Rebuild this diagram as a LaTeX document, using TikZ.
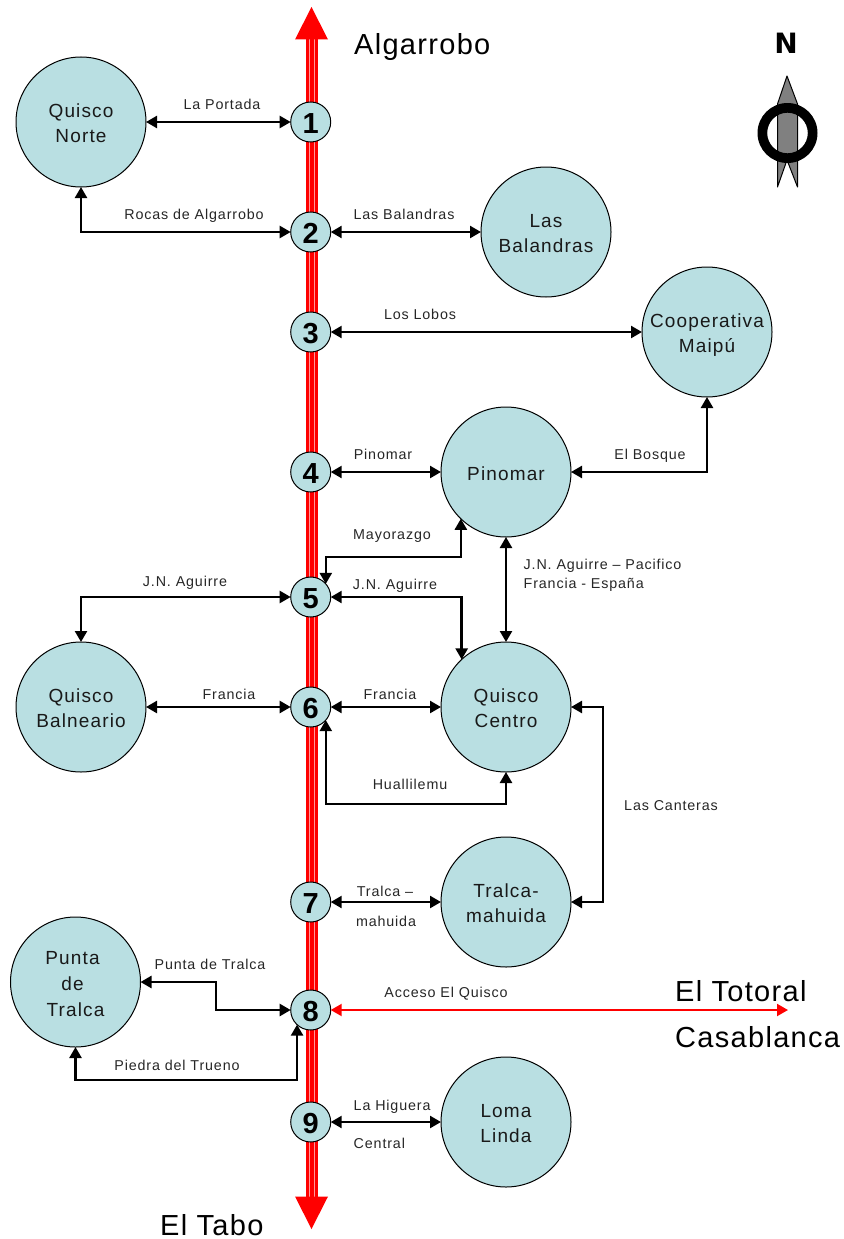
\documentclass[tikz,border=0pt]{standalone}
\usepackage{fontspec}
\setmainfont[LetterSpace=6]{Liberation Sans}
\newfontfamily\numfont{Liberation Sans Bold}
\newfontfamily\northfont{DejaVu Sans Bold}
\newfontfamily\bigfont[LetterSpace=4.5]{Liberation Sans}
\usetikzlibrary{arrows.meta,calc}
\definecolor{place}{HTML}{B9DFE2}
\newcommand{\placetext}[1]{\raisebox{0pt}[\dimexpr\height+6pt\relax][\depth]{\begin{tabular}{@{}c@{}}#1\end{tabular}}}
\tikzset{
  x=1pt,y=-1pt,
  bigc/.style={circle,draw=black,line width=1pt,fill=place,minimum size=130pt,inner sep=0pt,outer sep=0pt,font=\fontsize{19}{25}\selectfont,text=black!90},
  numc/.style={circle,draw=black,line width=1pt,fill=place,minimum size=40pt,inner sep=0pt,outer sep=0pt,font=\numfont\fontsize{29}{29}\selectfont},
  conn/.style={line width=2.4pt,{Triangle[length=11pt,width=12pt]}-{Triangle[length=11pt,width=12pt]}},
  redconn/.style={line width=2pt,red,{Triangle[length=11pt,width=12pt]}-{Triangle[length=11pt,width=12pt]}},
  lbl/.style={anchor=base,inner sep=0pt,font=\fontsize{14.3}{16}\selectfont,text=black!85},
  lbll/.style={anchor=base west,inner sep=0pt,font=\fontsize{14.3}{16}\selectfont,text=black!85},
  big/.style={anchor=base west,inner sep=0pt,font=\bigfont\fontsize{29}{30}\selectfont},
}
\begin{document}
\begin{tikzpicture}
\useasboundingbox (0,0) rectangle (843,1239);
% road
\fill[red] (306,39) rectangle (318,1197);
\draw[white!60!red,line width=0.9pt] (309.5,39) -- (309.5,1197);
\draw[white!60!red,line width=0.9pt] (314.3,39) -- (314.3,1197);
\fill[red] (311.5,7) -- (328,39.5) -- (295,39.5) -- cycle;
\fill[red] (311.5,1229) -- (328,1196.5) -- (295,1196.5) -- cycle;
% compass
\fill[black!50,draw=black,line width=1pt,line join=round] (787,76) -- (777.5,104) -- (777.5,187) -- (787,160) -- (797.5,187) -- (797.5,104) -- cycle;
\fill[black,even odd rule] (787.5,133) circle[radius=30] circle[radius=20.3];
\node[inner sep=0pt,font=\northfont\fontsize{28}{28}\selectfont] (north) at (786,43) {N};
% places
\node[bigc] (qn) at (81,122) {\placetext{Quisco\\Norte}};
\node[bigc] (lb) at (546,232) {\placetext{Las\\Balandras}};
\node[bigc] (cm) at (707,332) {\placetext{Cooperativa\\Maipú}};
\node[bigc] (pi) at (506,472) {\placetext{Pinomar}};
\node[bigc] (qc) at (506,707) {\placetext{Quisco\\Centro}};
\node[bigc] (qb) at (81,707) {\placetext{Quisco\\Balneario}};
\node[bigc] (tm) at (506,902) {\placetext{Tralca-\\mahuida}};
\node[bigc] (pt) at (75.5,982) {\placetext{\hspace*{-6pt}Punta\\[1pt]\hspace*{-6pt}de\\[1pt]Tralca}};
\node[bigc] (ll) at (506,1122) {\placetext{Loma\\Linda}};
% junctions
\foreach \n/\y in {1/122,2/232,3/332,4/472,5/597,6/707,7/902,8/1010,9/1122}
  \node[numc] (n\n) at (310.7,\y) {\raisebox{0pt}[\dimexpr\height+3pt\relax][\depth]{\n}};
% helper coordinates
\coordinate (may) at (0,557);
\coordinate (hua) at (0,804);
\coordinate (can) at (603,0);
\coordinate (ptx) at (216,0);
\coordinate (pie) at (0,1080);
\coordinate (acc) at (788,1010);
% connectors
\draw[conn] (qn) -- (n1);
\draw[conn] (qn) |- (n2);
\draw[conn] (n2) -- (lb);
\draw[conn] (n3) -- (cm);
\draw[conn] (n4) -- (pi);
\draw[conn] (pi) -| (cm);
\draw[conn] (n5.41.4) -- (n5.41.4 |- may) -- (pi.226.2 |- may) -- (pi.226.2);
\draw[conn] (n5) -| (qb);
\draw[conn] (n5) -| (qc.133.8);
\draw[conn] (pi) -- (qc);
\draw[conn] (qb) -- (n6);
\draw[conn] (n6) -- (qc);
\draw[conn] (n6.-41.4) -- (n6.-41.4 |- hua) -- (qc.south |- hua) -- (qc.south);
\draw[conn] (qc) -- (can |- qc) -- (can |- tm) -- (tm);
\draw[conn] (n7) -- (tm);
\draw[conn] (pt) -- (ptx |- pt) -- (ptx |- n8) -- (n8);
\draw[conn] (pt.south) -- (pt.south |- pie) -- (n8.-133.2 |- pie) -- (n8.-133.2);
\draw[conn] (n9) -- (ll);
\draw[redconn] (n8) -- (acc);
% connector labels
\node[lbl] (t1) at (222,109) {La Portada};
\node[lbl] (t2) at (194,219) {Rocas de Algarrobo};
\node[lbl] (t3) at (404,219) {Las Balandras};
\node[lbl] (t4) at (420,319) {Los Lobos};
\node[lbl] (t5) at (383,459) {Pinomar};
\node[lbl] (t6) at (650,459) {El Bosque};
\node[lbl] (t7) at (392,539) {Mayorazgo};
\node[lbl] (t8) at (185,586) {J.N. Aguirre};
\node[lbl] (t9) at (395,589) {J.N. Aguirre};
\node[lbll] (t10) at (523.5,569) {J.N. Aguirre – Pacifico};
\node[lbll] (t11) at (523.5,588) {Francia - España};
\node[lbl] (t12) at (229,699) {Francia};
\node[lbl] (t13) at (390,699) {Francia};
\node[lbl] (t14) at (410,789) {Huallilemu};
\node[lbl] (t15) at (671,810) {Las Canteras};
\node[lbl] (t16) at (385,896) {Tralca –};
\node[lbl] (t17) at (386,926) {mahuida};
\node[lbl] (t18) at (210,969) {Punta de Tralca};
\node[lbl] (t19) at (446,997) {Acceso El Quisco};
\node[lbl] (t20) at (177,1070) {Piedra del Trueno};
\node[lbll] (t21) at (353.5,1110) {La Higuera};
\node[lbll] (t22) at (353.5,1148) {Central};
% place names
\node[big] (algarrobo) at (354,54.5) {Algarrobo};
\node[big] (totoral) at (675,1001) {El Totoral};
\node[big] (casablanca) at (675,1047) {Casablanca};
\node[big] (tabo) at (160,1235) {El Tabo};
\end{tikzpicture}
\end{document}
